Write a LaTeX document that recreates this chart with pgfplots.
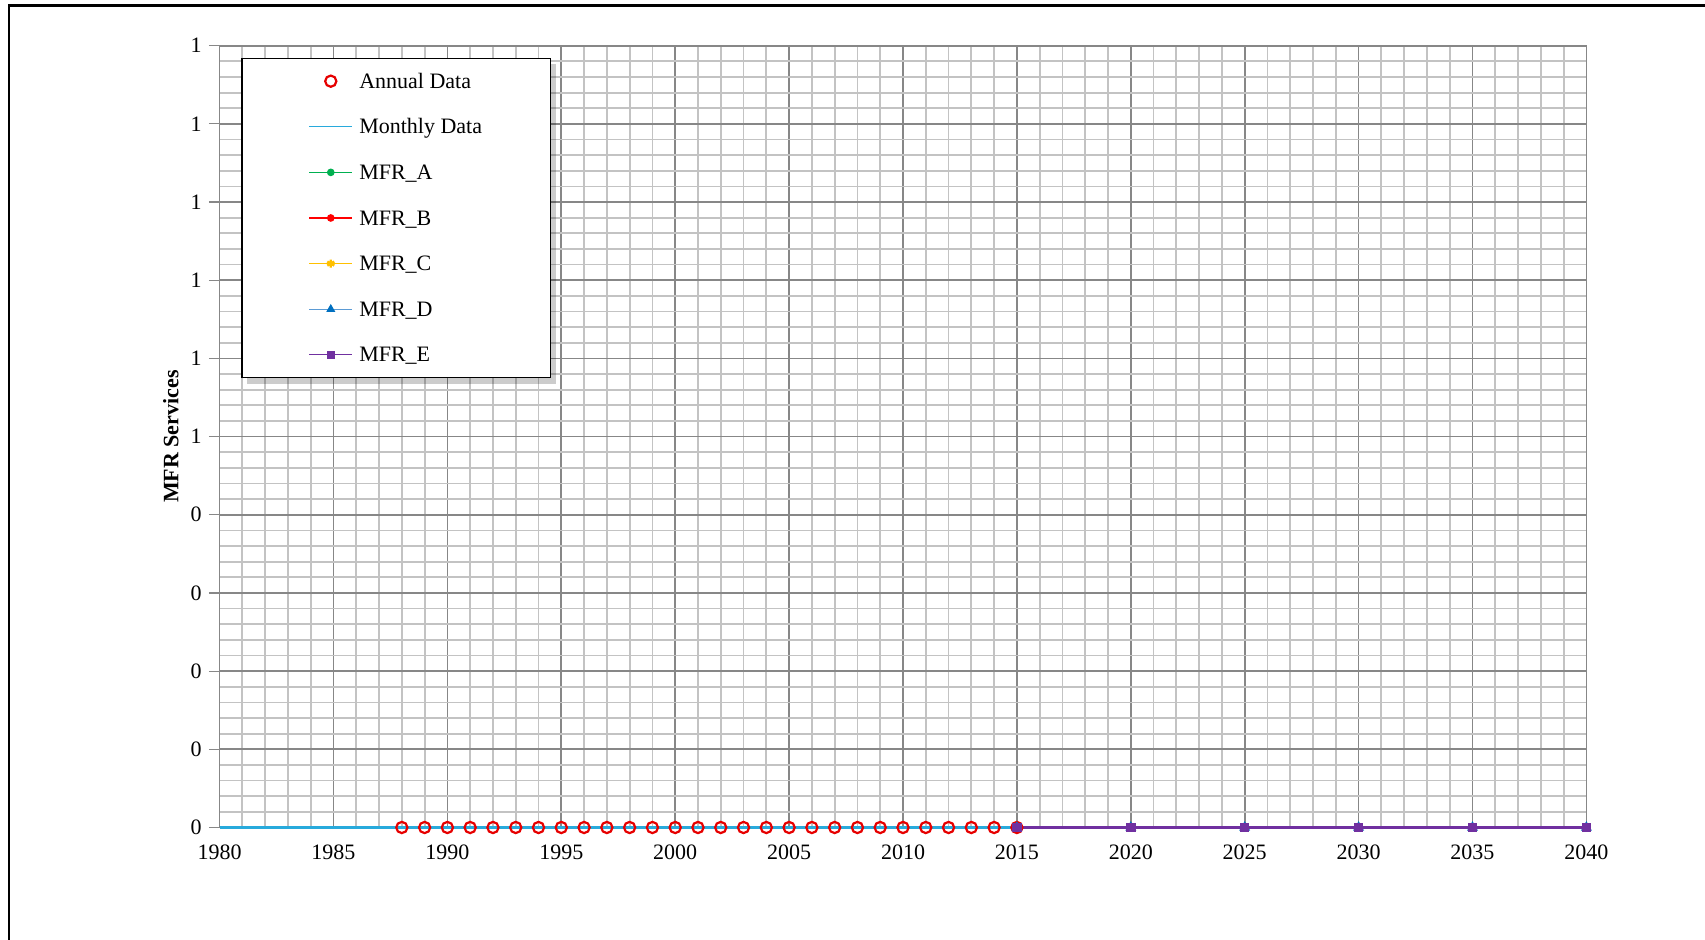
\documentclass[border=0pt]{standalone}
\usepackage{fontspec}
\setmainfont{Liberation Serif}
\usepackage{pgfplots}
\pgfplotsset{compat=1.18}
\definecolor{majgrid}{RGB}{135,135,135}
\definecolor{mingrid}{RGB}{195,195,195}
\definecolor{monthly}{RGB}{40,170,220}
\definecolor{annual}{RGB}{230,0,0}
\definecolor{mfra}{RGB}{0,176,80}
\definecolor{mfrb}{RGB}{255,0,0}
\definecolor{mfrc}{RGB}{255,192,0}
\definecolor{mfrdl}{RGB}{91,155,213}
\definecolor{mfrd}{RGB}{0,112,192}
\definecolor{mfre}{RGB}{112,48,160}
\pgfplotsset{
  myleg/.style={legend image code/.code={\draw[mark repeat=2,mark phase=2,line width=0.6pt] plot coordinates {(0pt,0pt) (10.85pt,0pt) (21.7pt,0pt)};\path (23.3pt,0pt);}}
}
\newcommand{\lt}[1]{\raisebox{-1.1pt}{#1}}
\begin{document}
\begin{tikzpicture}
\useasboundingbox (0pt,-470pt) rectangle (852.5pt,0pt);
\draw[line width=1.4pt] (4.5pt,-480pt) -- (4.5pt,-2.7pt) -- (860pt,-2.7pt);
\begin{axis}[
  at={(109.8pt,-413.75pt)}, anchor=south west,
  scale only axis, width=683.4pt, height=390.9pt,
  xmin=1980, xmax=2040, ymin=0, ymax=1,
  xtick={1980,1985,...,2040}, minor x tick num=4,
  ytick={0,0.1,0.2,0.3,0.4,0.5,0.6,0.7,0.8,0.9,1},
  yticklabels={0,0,0,0,0,1,1,1,1,1,1},
  minor y tick num=4,
  ytick pos=left,
  x tick label style={/pgf/number format/1000 sep={}},
  /pgf/number format/assume math mode=true,
  tick label style={font=\fontsize{11}{13}\selectfont},
  grid=both,
  major grid style={majgrid, line width=0.85pt},
  minor grid style={mingrid, line width=0.9pt},
  axis line style={majgrid, line width=0.85pt},
  tick align=outside,
  major tick length=5.4pt, minor tick length=0pt,
  tick style={majgrid, line width=0.6pt},
  xtick style={draw=none},
  clip=false,
  every axis y label/.style={at={(axis description cs:-0.0357,0.5)}, rotate=90, anchor=center},
  ylabel={\fontsize{11}{13}\selectfont\bfseries MFR Services},
  myleg,
  legend cell align=left,
  legend style={at={(axis description cs:0.016,0.9848)}, anchor=north west,
    draw=black, line width=0.8pt, fill=white,
    inner xsep=33.1pt, inner ysep=5.9pt, row sep=11.8pt,
    nodes={inner xsep=1.1pt, inner ysep=0pt, text height=8pt, text depth=3pt},
    font=\fontsize{11}{13}\selectfont},
]
\addplot[only marks, mark=o, annual, mark size=2.8pt, mark options={line width=1.1pt}, myleg]
  coordinates {(1988,0) (1989,0) (1990,0) (1991,0) (1992,0) (1993,0) (1994,0) (1995,0) (1996,0) (1997,0)
  (1998,0) (1999,0) (2000,0) (2001,0) (2002,0) (2003,0) (2004,0) (2005,0) (2006,0) (2007,0)
  (2008,0) (2009,0) (2010,0) (2011,0) (2012,0) (2013,0) (2014,0) (2015,0)};
\addlegendentry{\lt{Annual Data}}
\addplot[monthly, line width=1.2pt, no marks]
  coordinates {(1980,0) (1981,0) (1982,0) (1983,0) (1984,0) (1985,0) (1986,0) (1987,0) (1988,0) (1989,0)
  (1990,0) (1991,0) (1992,0) (1993,0) (1994,0) (1995,0) (1996,0) (1997,0) (1998,0) (1999,0)
  (2000,0) (2001,0) (2002,0) (2003,0) (2004,0) (2005,0) (2006,0) (2007,0) (2008,0) (2009,0)
  (2010,0) (2011,0) (2012,0) (2013,0) (2014,0) (2015,0)};
\addlegendentry{\lt{Monthly Data}}
\addplot[mfra, line width=1.2pt, mark=*, mark size=1.6pt]
  coordinates {(2015,0) (2020,0) (2025,0) (2030,0) (2035,0) (2040,0)};
\addlegendentry{\lt{MFR\_A}}
\addplot[mfrb, line width=1.2pt, mark=*, mark size=1.6pt]
  coordinates {(2015,0) (2020,0) (2025,0) (2030,0) (2035,0) (2040,0)};
\addlegendentry{\lt{MFR\_B}}
\addplot[mfrc, line width=1.2pt, mark=asterisk, mark size=2pt, mark options={line width=1.2pt}]
  coordinates {(2015,0) (2020,0) (2025,0) (2030,0) (2035,0) (2040,0)};
\addlegendentry{\lt{MFR\_C}}
\addplot[mfrdl, line width=1.2pt, mark=triangle*, mark size=2pt, mark options={mfrd}]
  coordinates {(2015,0) (2020,0) (2025,0) (2030,0) (2035,0) (2040,0)};
\addlegendentry{\lt{MFR\_D}}
\addplot[mfre, line width=1.4pt, mark=square*, mark size=1.7pt]
  coordinates {(2015,0) (2020,0) (2025,0) (2030,0) (2035,0) (2040,0)};
\addlegendentry{\lt{MFR\_E}}
\fill[black, opacity=0.2] ([xshift=3pt,yshift=-3pt]axis description cs:0.016,0.9848) rectangle ([xshift=3pt,yshift=-3pt]axis description cs:0.2419,0.5745);
\end{axis}
\end{tikzpicture}
\end{document}
